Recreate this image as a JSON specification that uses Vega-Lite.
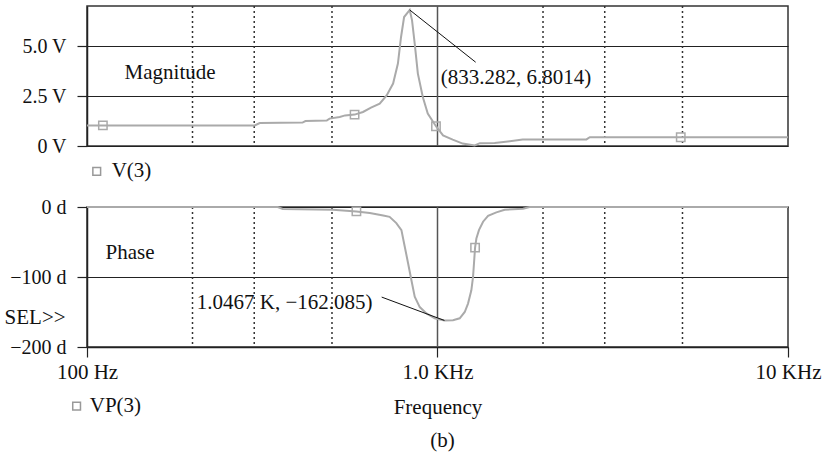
{
  "$schema": "https://vega.github.io/schema/vega-lite/v6.json",
  "background": "white",
  "padding": {"left": 3, "top": 4, "right": 5, "bottom": 2},
  "bounds": "flush",
  "spacing": 61,
  "config": {
    "font": "Liberation Serif",
    "view": {"stroke": "#333", "strokeWidth": 1.5},
    "axis": {
      "labelFont": "Liberation Serif", "labelFontSize": 20, "labelColor": "#111",
      "tickColor": "#222", "tickSize": 10, "tickWidth": 1.2, "domainColor": "#222", "domainWidth": 1.5,
      "gridColor": "#222", "gridWidth": 1, "gridOpacity": 1,
      "titleFont": "Liberation Serif", "titleFontSize": 21, "titleFontWeight": "normal", "titleColor": "#111"
    },
    "text": {"font": "Liberation Serif", "fontSize": 21, "color": "#111"}
  },
  "datasets": {
    "dotted": [{"f": 200}, {"f": 300}, {"f": 500}, {"f": 2000}, {"f": 3000}, {"f": 5000}],
    "mag": [
      {"f": 100, "v": 1.03}, {"f": 301, "v": 1.03}, {"f": 311, "v": 1.15}, {"f": 412, "v": 1.17},
      {"f": 420, "v": 1.25}, {"f": 483, "v": 1.27}, {"f": 492, "v": 1.37}, {"f": 526, "v": 1.45},
      {"f": 545, "v": 1.53}, {"f": 580, "v": 1.57}, {"f": 613, "v": 1.70}, {"f": 646, "v": 1.92},
      {"f": 684, "v": 2.12}, {"f": 716, "v": 2.53}, {"f": 747, "v": 3.12}, {"f": 771, "v": 4.12},
      {"f": 787, "v": 5.45}, {"f": 803, "v": 6.45}, {"f": 833.282, "v": 6.8014}, {"f": 846, "v": 6.28},
      {"f": 861, "v": 5.12}, {"f": 879, "v": 3.62}, {"f": 908, "v": 2.45}, {"f": 938, "v": 1.62},
      {"f": 990, "v": 0.99}, {"f": 1037, "v": 0.53}, {"f": 1105, "v": 0.32}, {"f": 1180, "v": 0.12},
      {"f": 1277, "v": 0.03}, {"f": 1321, "v": 0.14}, {"f": 1456, "v": 0.15}, {"f": 1750, "v": 0.32},
      {"f": 2660, "v": 0.33}, {"f": 2720, "v": 0.44}, {"f": 10000, "v": 0.44}
    ],
    "magMarks": [{"f": 111, "v": 1.03}, {"f": 580, "v": 1.57}, {"f": 990, "v": 0.99}, {"f": 4943, "v": 0.44}],
    "phase": [
      {"f": 100, "d": 0}, {"f": 350, "d": 0}, {"f": 362, "d": -2.9}, {"f": 503, "d": -3.9},
      {"f": 587, "d": -6.3}, {"f": 641, "d": -8.6}, {"f": 700, "d": -12}, {"f": 730, "d": -14},
      {"f": 763, "d": -23}, {"f": 789, "d": -33}, {"f": 806, "d": -56}, {"f": 824, "d": -80},
      {"f": 842, "d": -104}, {"f": 861, "d": -128}, {"f": 890, "d": -143}, {"f": 930, "d": -152},
      {"f": 982, "d": -159}, {"f": 1046.7, "d": -162.085}, {"f": 1107, "d": -161.7}, {"f": 1157, "d": -159},
      {"f": 1196, "d": -150}, {"f": 1222, "d": -138}, {"f": 1249, "d": -119}, {"f": 1263, "d": -100},
      {"f": 1280, "d": -58}, {"f": 1291, "d": -45}, {"f": 1313, "d": -33}, {"f": 1349, "d": -21},
      {"f": 1394, "d": -12.5}, {"f": 1472, "d": -7.7}, {"f": 1555, "d": -3.9}, {"f": 1754, "d": -2.4},
      {"f": 1832, "d": 0}, {"f": 10000, "d": 0}
    ],
    "phaseMarks": [{"f": 587, "d": -6.3}, {"f": 1280, "d": -58}]
  },
  "vconcat": [
    {
      "width": 701,
      "height": 140,
      "layer": [
        {
          "data": {"name": "dotted"},
          "mark": {"type": "rule", "strokeDash": [2, 3], "color": "#333", "strokeWidth": 1.5},
          "encoding": {"x": {"field": "f", "type": "quantitative", "scale": {"type": "log", "domain": [100, 10000], "nice": false}, "axis": null}}
        },
        {
          "data": {"values": [{"f": 1000}]},
          "mark": {"type": "rule", "color": "#555", "strokeWidth": 1.5},
          "encoding": {"x": {"field": "f", "type": "quantitative"}}
        },
        {
          "data": {"name": "mag"},
          "mark": {"type": "line", "color": "#aaa", "strokeWidth": 2},
          "encoding": {
            "x": {"field": "f", "type": "quantitative"},
            "y": {"field": "v", "type": "quantitative", "scale": {"domain": [0, 7], "nice": false},
                  "axis": {"values": [0, 2.5, 5], "grid": true, "title": null, "labelPadding": 11,
                           "labelExpr": "datum.value === 0 ? '0 V' : format(datum.value, '.1f') + ' V'"}}
          }
        },
        {
          "data": {"name": "magMarks"},
          "mark": {"type": "point", "shape": "square", "filled": false, "color": "#aaa", "strokeWidth": 1.5, "size": 70, "opacity": 1},
          "encoding": {"x": {"field": "f", "type": "quantitative"}, "y": {"field": "v", "type": "quantitative"}}
        },
        {
          "data": {"values": [{"f": 833.282, "v": 6.8014, "f2": 1285, "v2": 4.19}]},
          "mark": {"type": "rule", "color": "#111", "strokeWidth": 1},
          "encoding": {
            "x": {"field": "f", "type": "quantitative"}, "y": {"field": "v", "type": "quantitative"},
            "x2": {"field": "f2"}, "y2": {"field": "v2"}
          }
        },
        {
          "data": {"values": [
            {"f": 1021, "v": 3.39, "t": "(833.282, 6.8014)"},
            {"f": 128, "v": 3.65, "t": "Magnitude"},
            {"f": 117.6, "v": -1.27, "t": "V(3)"}
          ]},
          "mark": {"type": "text", "align": "left", "baseline": "middle"},
          "encoding": {
            "x": {"field": "f", "type": "quantitative"}, "y": {"field": "v", "type": "quantitative"},
            "text": {"field": "t"}
          }
        },
        {
          "data": {"values": [{"f": 106.6, "v": -1.27}]},
          "mark": {"type": "point", "shape": "square", "filled": false, "color": "#999", "strokeWidth": 1.5, "size": 60, "opacity": 1},
          "encoding": {"x": {"field": "f", "type": "quantitative"}, "y": {"field": "v", "type": "quantitative"}}
        }
      ]
    },
    {
      "width": 701,
      "height": 140,
      "layer": [
        {
          "data": {"name": "dotted"},
          "mark": {"type": "rule", "strokeDash": [2, 3], "color": "#333", "strokeWidth": 1.5},
          "encoding": {"x": {"field": "f", "type": "quantitative", "scale": {"type": "log", "domain": [100, 10000], "nice": false},
            "axis": {"values": [100, 1000, 10000], "grid": false, "title": "Frequency", "labelPadding": 4, "titlePadding": 14,
                     "labelFontSize": 21, "labelFlush": false, "labelOverlap": false,
                     "labelExpr": "datum.value === 100 ? '100 Hz' : datum.value === 1000 ? '1.0 KHz' : '10 KHz'"}}}
        },
        {
          "data": {"values": [{"f": 1000}]},
          "mark": {"type": "rule", "color": "#555", "strokeWidth": 1.5},
          "encoding": {"x": {"field": "f", "type": "quantitative"}}
        },
        {
          "data": {"name": "phase"},
          "mark": {"type": "line", "color": "#aaa", "strokeWidth": 2},
          "encoding": {
            "x": {"field": "f", "type": "quantitative"},
            "y": {"field": "d", "type": "quantitative", "scale": {"domain": [-200, 0], "nice": false},
                  "axis": {"values": [-200, -100, 0], "grid": true, "title": null, "labelPadding": 11,
                           "labelExpr": "datum.value === 0 ? '0 d' : '−' + format(-datum.value, 'd') + ' d'"}}
          }
        },
        {
          "data": {"name": "phaseMarks"},
          "mark": {"type": "point", "shape": "square", "filled": false, "color": "#aaa", "strokeWidth": 1.5, "size": 70, "opacity": 1},
          "encoding": {"x": {"field": "f", "type": "quantitative"}, "y": {"field": "d", "type": "quantitative"}}
        },
        {
          "data": {"values": [{"f": 1046.7, "d": -162.085, "f2": 693, "d2": -128.7}]},
          "mark": {"type": "rule", "color": "#111", "strokeWidth": 1},
          "encoding": {
            "x": {"field": "f", "type": "quantitative"}, "y": {"field": "d", "type": "quantitative"},
            "x2": {"field": "f2"}, "y2": {"field": "d2"}
          }
        },
        {
          "data": {"values": [
            {"f": 653, "d": -136.9, "t": "1.0467 K, −162.085)"},
            {"f": 86.9, "d": -158.8, "t": "SEL>>"}
          ]},
          "mark": {"type": "text", "align": "right", "baseline": "middle"},
          "encoding": {
            "x": {"field": "f", "type": "quantitative"}, "y": {"field": "d", "type": "quantitative"},
            "text": {"field": "t"}
          }
        },
        {
          "data": {"values": [
            {"f": 113, "d": -65.1, "t": "Phase"},
            {"f": 101.8, "d": -284.6, "t": "VP(3)"}
          ]},
          "mark": {"type": "text", "align": "left", "baseline": "middle"},
          "encoding": {
            "x": {"field": "f", "type": "quantitative"}, "y": {"field": "d", "type": "quantitative"},
            "text": {"field": "t"}
          }
        },
        {
          "data": {"values": [{"f": 1034, "d": -334, "t": "(b)"}]},
          "mark": {"type": "text", "align": "center", "baseline": "middle"},
          "encoding": {
            "x": {"field": "f", "type": "quantitative"}, "y": {"field": "d", "type": "quantitative"},
            "text": {"field": "t"}
          }
        },
        {
          "data": {"values": [{"f": 93.4, "d": -284.6}]},
          "mark": {"type": "point", "shape": "square", "filled": false, "color": "#999", "strokeWidth": 1.5, "size": 60, "opacity": 1},
          "encoding": {"x": {"field": "f", "type": "quantitative"}, "y": {"field": "d", "type": "quantitative"}}
        }
      ]
    }
  ]
}
